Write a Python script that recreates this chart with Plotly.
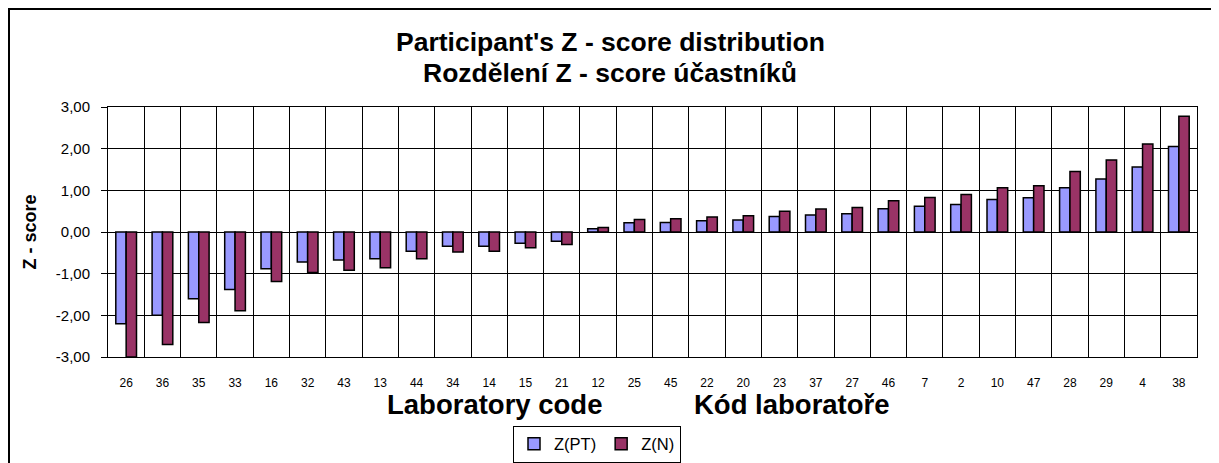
import plotly.graph_objects as go

labs = ["26", "36", "35", "33", "16", "32", "43", "13", "44", "34", "14", "15", "21", "12", "25",
        "45", "22", "20", "23", "37", "27", "46", "7", "2", "10", "47", "28", "29", "4", "38"]
z_pt = [-2.20, -2.00, -1.60, -1.38, -0.88, -0.72, -0.67, -0.64, -0.46, -0.34, -0.34, -0.27, -0.22, 0.08, 0.22,
        0.23, 0.27, 0.29, 0.37, 0.41, 0.44, 0.56, 0.62, 0.66, 0.78, 0.82, 1.06, 1.27, 1.56, 2.05]
z_n = [-3.00, -2.70, -2.17, -1.89, -1.19, -0.97, -0.92, -0.86, -0.64, -0.48, -0.46, -0.38, -0.30, 0.11, 0.30,
       0.32, 0.36, 0.39, 0.50, 0.55, 0.59, 0.75, 0.83, 0.90, 1.06, 1.11, 1.45, 1.73, 2.11, 2.78]
y_ticks = [-3, -2, -1, 0, 1, 2, 3]
y_tick_text = ["-3,00", "-2,00", "-1,00", "0,00", "1,00", "2,00", "3,00"]

FONT = "Liberation Sans, Arial, sans-serif"

fig = go.Figure()
fig.add_trace(go.Bar(x=labs, y=z_pt, name="Z(PT)",
                     marker=dict(color="#9999FF", line=dict(color="black", width=1.5))))
fig.add_trace(go.Bar(x=labs, y=z_n, name="Z(N)",
                     marker=dict(color="#993366", line=dict(color="black", width=1.5))))

OFF = 8  # page body margin
W, H = 1211, 455
PL, PR, PT, PB = 108, 1197, 107, 357  # plot area in page pixels
L, T = PL - OFF, PT - OFF
R = W - (PR - OFF)
B = H - (PB - OFF)
pw, ph = PR - PL, PB - PT

def px_x(p):
    return (p - PL) / pw

def px_y(p):
    return (PB - p) / ph

fig.update_layout(
    width=W, height=H,
    margin=dict(l=L, r=R, t=T, b=B, autoexpand=False),
    paper_bgcolor="white", plot_bgcolor="white",
    barmode="group", bargap=0.43, bargroupgap=0,
    font=dict(family=FONT, color="black"),
    showlegend=True,
    legend=dict(orientation="h", x=px_x(597), y=px_y(444), xanchor="center", yanchor="middle",
                bordercolor="black", borderwidth=1, font=dict(size=16.5, family=FONT),
                itemwidth=30, tracegroupgap=0),
    xaxis=dict(type="category", tickson="boundaries", showgrid=True, gridcolor="black", gridwidth=1,
               showline=True, linecolor="black", linewidth=1, mirror=True,
               ticks="", tickfont=dict(size=12, family=FONT), ticklabelstandoff=15),
    yaxis=dict(range=[-3, 3], tickvals=y_ticks, ticktext=y_tick_text, showgrid=True, gridcolor="black",
               gridwidth=1, zeroline=True, zerolinecolor="black", zerolinewidth=1,
               showline=True, linecolor="black", linewidth=1, mirror=True,
               ticks="outside", ticklen=6, tickcolor="black", tickfont=dict(size=15, family=FONT),
               ticklabelstandoff=8,
               title=dict(text="<b>Z - score</b>", font=dict(size=18, family=FONT), standoff=14)),
)

annos = [
    dict(text="<b>Participant's Z - score distribution</b>", x=px_x(610), y=px_y(42), size=26.5),
    dict(text="<b>Rozdělení Z - score účastníků</b>", x=px_x(610), y=px_y(73), size=26.5),
    dict(text="<b>Laboratory code</b>", x=px_x(494), y=px_y(404), size=27.5),
    dict(text="<b>Kód laboratoře</b>", x=px_x(792), y=px_y(404), size=27.5),
]
for a in annos:
    fig.add_annotation(text=a["text"], x=a["x"], y=a["y"], xref="paper", yref="paper",
                       xanchor="center", yanchor="middle", showarrow=False,
                       font=dict(size=a["size"], family=FONT, color="black"))

fig.add_shape(type="rect", xref="paper", yref="paper", x0=px_x(9), x1=px_x(1260), y0=px_y(500), y1=px_y(9),
              line=dict(color="black", width=2), fillcolor="rgba(0,0,0,0)", layer="below")

fig.write_html("out.html")
